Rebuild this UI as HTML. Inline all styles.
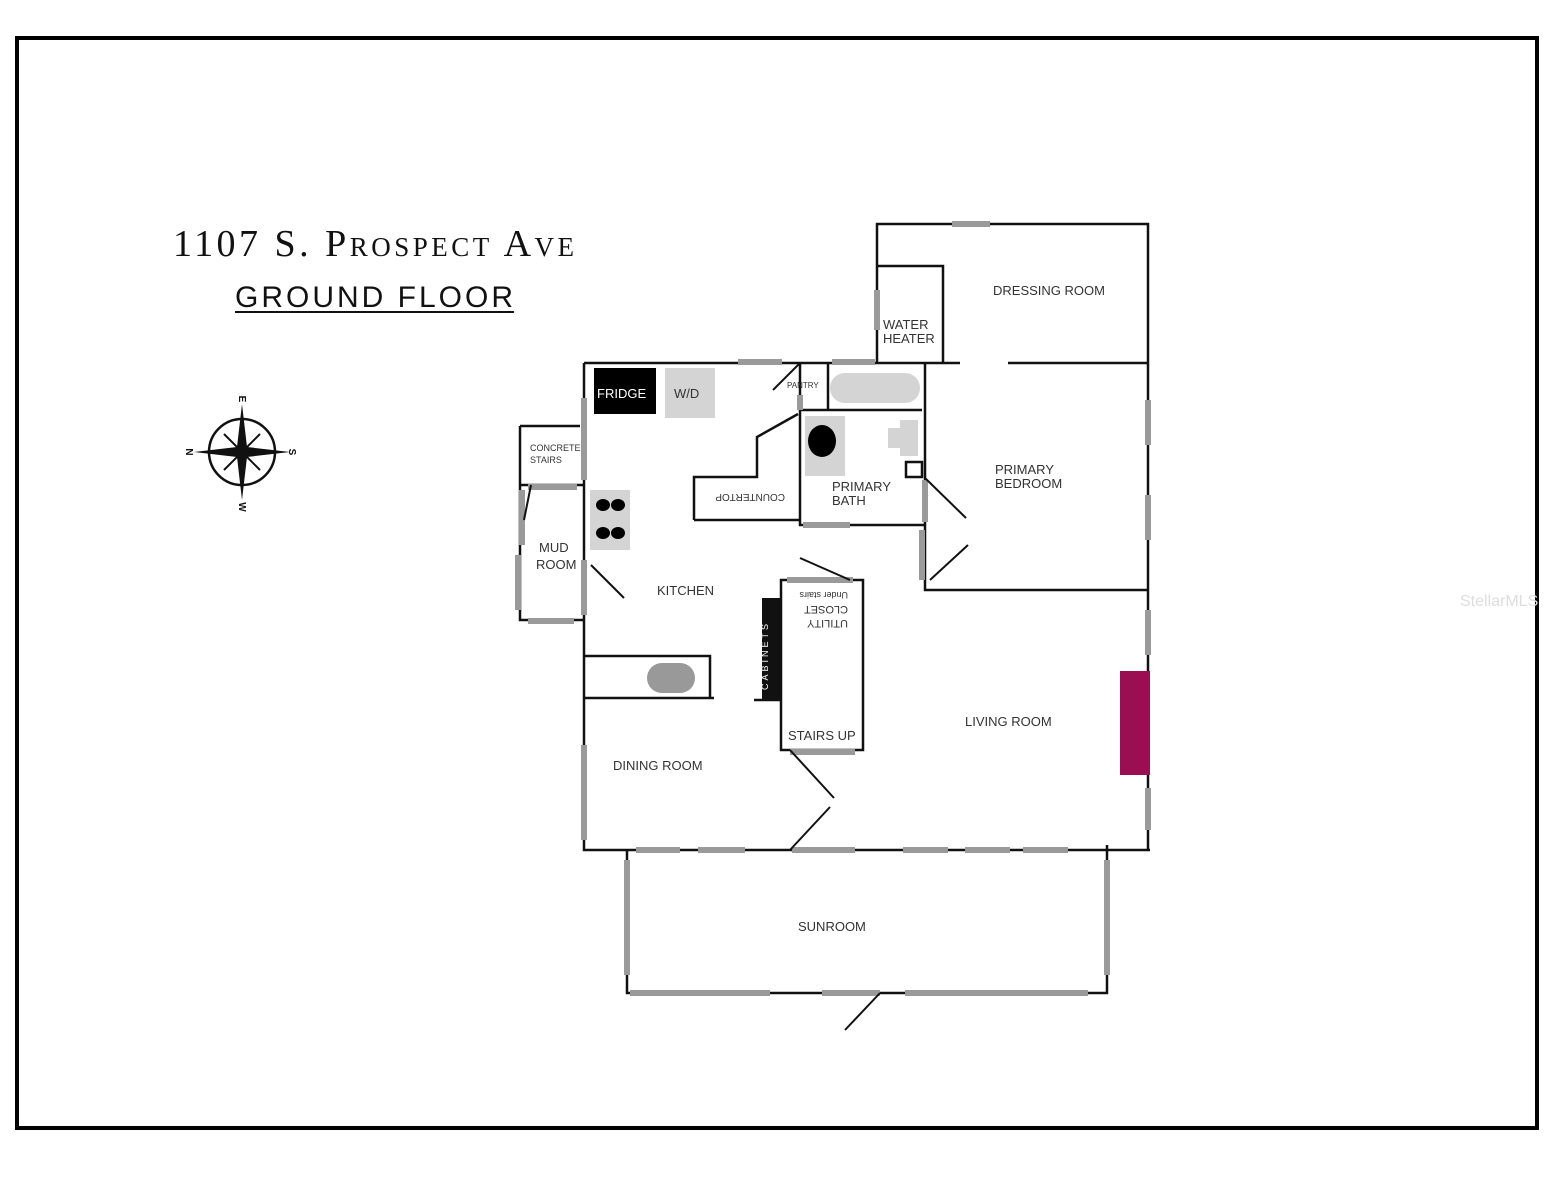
<!DOCTYPE html>
<html><head><meta charset="utf-8"><style>
html,body{margin:0;padding:0;background:#fff;}
svg{display:block;}
.w{stroke:#111;stroke-width:2.5;fill:none;}
.g{stroke:#9a9a9a;stroke-width:6;fill:none;}
.d{stroke:#111;stroke-width:2;fill:none;}
text{font-family:"Liberation Sans",sans-serif;fill:#333;font-size:13px;}
</style></head><body>
<svg width="1553" height="1200" viewBox="0 0 1553 1200" xmlns="http://www.w3.org/2000/svg">
<rect x="17" y="38" width="1520" height="1090" fill="none" stroke="#000" stroke-width="4"/>
<text x="173" y="256" style="font-family:'Liberation Serif',serif;font-size:38px;fill:#111;font-variant:small-caps;letter-spacing:1px" textLength="402">1107 S. Prospect Ave</text>
<text x="235" y="307" style="font-family:'Liberation Sans',sans-serif;font-size:30px;fill:#111;font-weight:300" textLength="278">GROUND FLOOR</text>
<line x1="235" y1="312" x2="514" y2="312" stroke="#111" stroke-width="2"/>
<!-- compass -->
<g transform="translate(242,452)">
<circle r="33" fill="none" stroke="#111" stroke-width="2.5"/>
<polygon points="0,-48 5,-5 48,0 5,5 0,48 -5,5 -48,0 -5,-5" fill="#111"/>
<line x1="-18" y1="-18" x2="18" y2="18" stroke="#111" stroke-width="2"/>
<line x1="-18" y1="18" x2="18" y2="-18" stroke="#111" stroke-width="2"/>
<text x="0" y="-50" text-anchor="middle" style="font-size:10px;font-weight:bold;fill:#111" transform="rotate(90 0 -53)">E</text>
<text x="0" y="58" text-anchor="middle" style="font-size:10px;font-weight:bold;fill:#111" transform="rotate(90 0 55)">W</text>
<text x="-52" y="4" text-anchor="middle" style="font-size:10px;font-weight:bold;fill:#111" transform="rotate(90 -52 0)">N</text>
<text x="51" y="4" text-anchor="middle" style="font-size:10px;font-weight:bold;fill:#111" transform="rotate(90 51 0)">S</text>
</g>
<!-- walls -->
<path class="w" d="M584 363 H960 M1008 363 H1148 M877 363 V224 H1148 V850 M877 266 H943 V363 M584 363 V850 H1150"/>
<path class="w" d="M925 363 V590 H1148 M800 363 V525 H925 M828 363 V410 M800 410 H922 M906 462 H922 V477 H906 Z"/>
<path class="w" d="M694 520 V477 H757 V437 L798 414 M694 520 H800"/>
<path class="w" d="M520 426 H580 M520 426 V620 H584 M520 485 H584"/>
<path class="w" d="M584 656 H710 V698 M584 698 H714"/>
<path class="w" d="M781 580 H863 V750 H781 Z M754 700 H781"/>
<rect x="762" y="598" width="19" height="102" fill="#111"/>
<path class="w" d="M627 850 V993 H1107 V850 M1107 845 V850"/>
<!-- gray windows -->
<path class="g" d="M738 362 H782 M832 362 H875 M952 224 H990 M877 290 V330 M1148 400 V445 M1148 495 V540 M1148 610 V655 M1148 788 V830 M584 398 V480 M584 560 V615 M522 490 V545 M518 555 V610 M528 487 H577 M528 621 H574 M925 480 V522 M922 530 V580 M800 395 V410 M803 525 H850 M787 580 H853 M790 752 H855 M584 745 V840 M636 850 H680 M698 850 H745 M792 850 H855 M903 850 H948 M965 850 H1010 M1023 850 H1068 M627 860 V975 M1107 860 V975 M630 993 H770 M822 993 H880 M905 993 H1088"/>
<!-- doors -->
<path class="d" d="M773 390 L800 363 M531 485 L524 520 M591 565 L624 598 M800 558 L850 580 M925 478 L966 518 M930 580 L968 545 M790 750 L834 798 M830 807 L790 850 M880 993 L845 1030"/>
<!-- fixtures -->
<rect x="594" y="368" width="62" height="46" fill="#000"/>
<text x="597" y="398" style="fill:#fff;font-size:13px">FRIDGE</text>
<rect x="665" y="368" width="50" height="50" fill="#d4d4d4"/>
<text x="674" y="398" style="fill:#333">W/D</text>
<rect x="590" y="490" width="40" height="60" fill="#d4d4d4"/>
<ellipse cx="603" cy="505" rx="7" ry="6" fill="#000"/><ellipse cx="618" cy="505" rx="7" ry="6" fill="#000"/>
<ellipse cx="603" cy="533" rx="7" ry="6" fill="#000"/><ellipse cx="618" cy="533" rx="7" ry="6" fill="#000"/>
<rect x="830" y="373" width="90" height="30" rx="15" fill="#d4d4d4"/>
<rect x="805" y="416" width="40" height="60" fill="#d4d4d4"/>
<ellipse cx="822" cy="441" rx="14" ry="16" fill="#000"/>
<path d="M888 428 h12 v-8 h18 v36 h-18 v-8 h-12 z" fill="#d4d4d4"/>
<rect x="647" y="663" width="48" height="30" rx="15" fill="#999"/>
<rect x="1120" y="671" width="30" height="104" fill="#9b0f52"/>
<!-- labels -->
<text x="993" y="295">DRESSING ROOM</text>
<text x="883" y="329">WATER</text><text x="883" y="343">HEATER</text>
<text x="787" y="388" style="font-size:8px">PANTRY</text>
<text x="530" y="451" style="font-size:9px">CONCRETE</text><text x="530" y="463" style="font-size:9px">STAIRS</text>
<text x="995" y="474">PRIMARY</text><text x="995" y="488">BEDROOM</text>
<text x="832" y="491">PRIMARY</text><text x="832" y="505">BATH</text>
<text x="0" y="0" style="font-size:10px" transform="translate(785,494) rotate(180)">COUNTERTOP</text>
<text x="539" y="552">MUD</text><text x="536" y="569">ROOM</text>
<text x="657" y="595">KITCHEN</text>
<text x="0" y="0" style="font-size:9px" transform="translate(848,592) rotate(180)">Under stairs</text>
<text x="0" y="0" style="font-size:11px" transform="translate(848,606) rotate(180)">CLOSET</text>
<text x="0" y="0" style="font-size:11px" transform="translate(848,620) rotate(180)">UTILITY</text>
<text x="0" y="0" style="font-size:9px;fill:#fff;letter-spacing:3px" transform="translate(768,690) rotate(-90)">CABINETS</text>
<text x="788" y="740">STAIRS UP</text>
<text x="965" y="726">LIVING ROOM</text>
<text x="613" y="770">DINING ROOM</text>
<text x="798" y="931">SUNROOM</text>
<text x="1460" y="606" style="fill:#ddd;font-size:16px">StellarMLS</text>
</svg>
</body></html>
